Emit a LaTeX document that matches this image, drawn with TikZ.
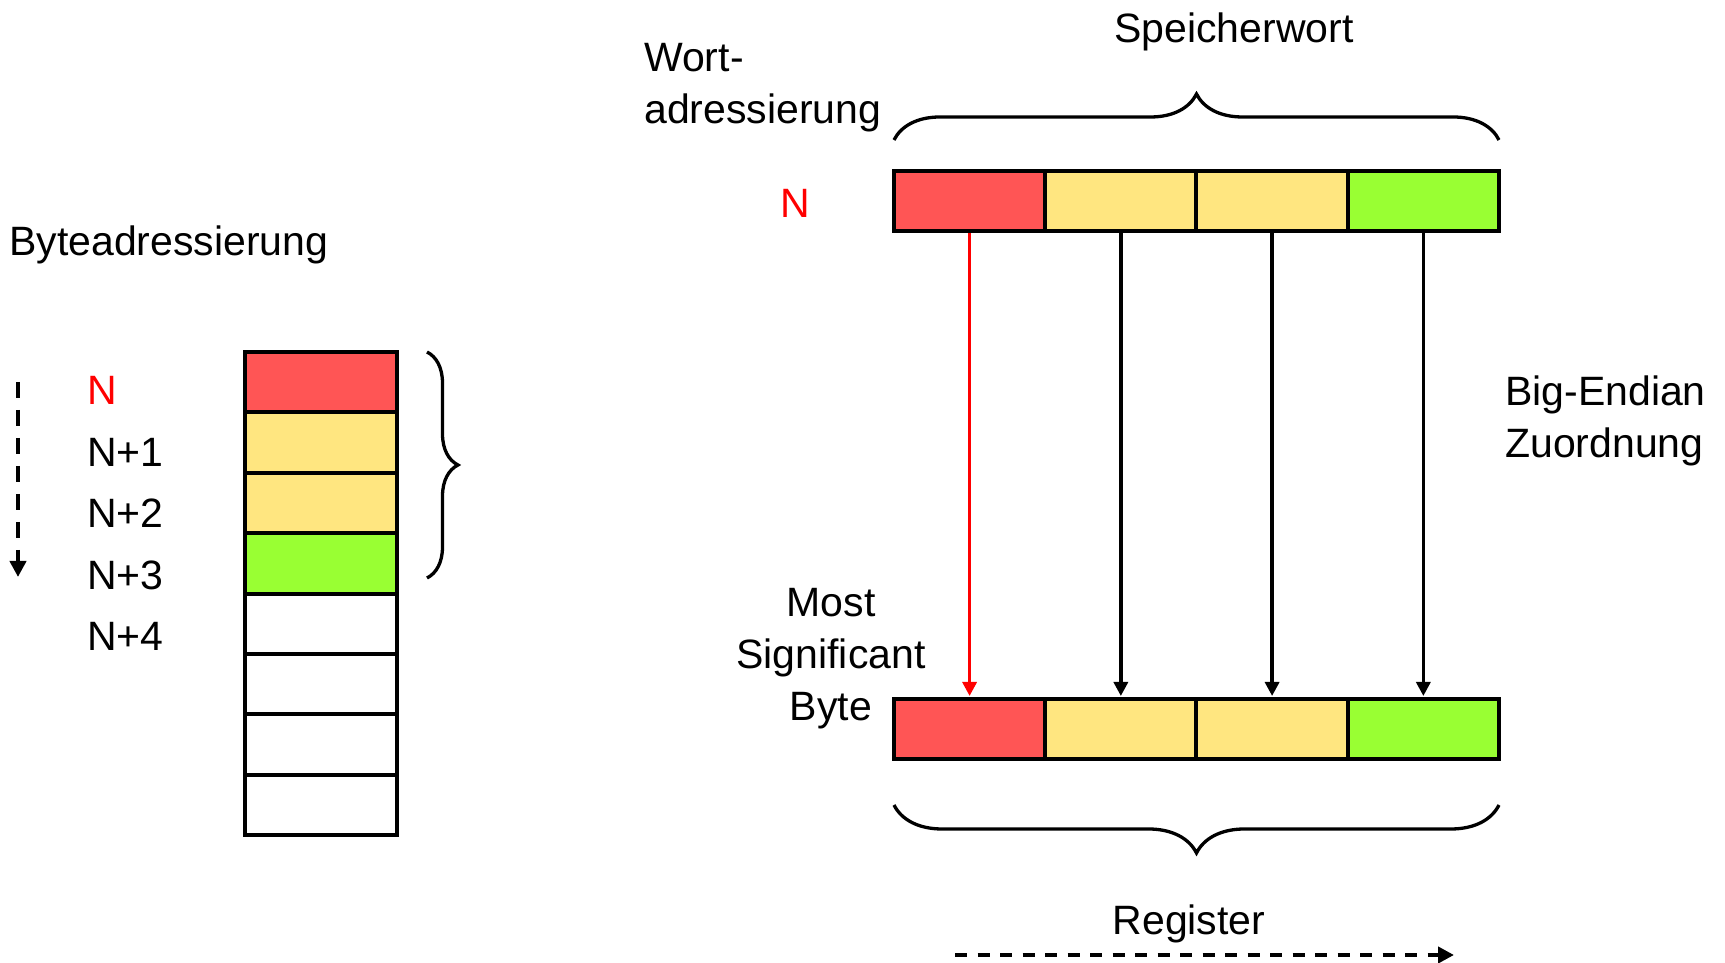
\documentclass[tikz,border=0pt]{standalone}
\usepackage{fontspec}
\setmainfont{Liberation Sans}
\usetikzlibrary{arrows.meta,decorations.pathreplacing}
\definecolor{msbred}{RGB}{255,85,85}
\definecolor{midyellow}{RGB}{255,230,128}
\definecolor{lsbgreen}{RGB}{153,255,51}

\begin{document}
\begin{tikzpicture}[x=1pt,y=1pt,
  cell/.style={draw=black,line width=4pt,minimum width=152pt,minimum height=60.4pt,inner sep=0pt,outer sep=0pt},
  wcell/.style={cell,minimum width=151.25pt,minimum height=60pt},
  lbl/.style={inner sep=0pt,font=\fontsize{41}{52}\selectfont},
  link/.style={line width=3.3pt,-{Triangle[length=14pt,width=14pt]},shorten >=3pt,shorten <=2pt},
  curly/.style={decorate,decoration={brace,amplitude=#1},line width=3.3pt},
  order/.style={line width=4pt,dash pattern=on 12pt off 10.5pt,-{Triangle[length=16pt,width=16pt]}}
]
\useasboundingbox (0,0) rectangle (1725,963);

% byte-addressed memory column
\foreach \i/\c in {0/msbred,1/midyellow,2/midyellow,3/lsbgreen,4/white,5/white,6/white,7/white}
  \node[cell,fill=\c] (b\i) at (321,{580.8-60.4*\i}) {};

\node[lbl,anchor=west] (ba) at (9,718.5) {Byteadressierung};
\node[lbl,anchor=base west,text=red] (l0) at (87,558.5) {N};
\node[lbl,anchor=base west] (l1) at (87,496.5) {N+1};
\node[lbl,anchor=base west] (l2) at (87,435.5) {N+2};
\node[lbl,anchor=base west] (l3) at (87,373.5) {N+3};
\node[lbl,anchor=base west] (l4) at (87,312.5) {N+4};

\coordinate (ordA) at (18,581);
\coordinate (ordB) at (18,386);
\draw[order,dash pattern=on 16pt off 12pt] (ordA) -- (ordB);

\coordinate (lbT) at (427,611);
\coordinate (lbB) at (427,385);
\draw[curly=31pt] (lbT) -- (lbB);

% word in memory and register
\foreach \i/\c in {0/msbred,1/midyellow,2/midyellow,3/lsbgreen} {
  \node[wcell,fill=\c] (w\i) at ({969.6+151.25*\i},762) {};
  \node[wcell,fill=\c] (r\i) at ({969.6+151.25*\i},234) {};
}
\draw[link,red] (w0.south) -- (r0.north);
\foreach \i in {1,2,3}
  \draw[link] (w\i.south) -- (r\i.north);

\coordinate (tbL) at (894,823);
\coordinate (tbR) at (1499,823);
\draw[curly=46pt] (tbL) -- (tbR);
\coordinate (bbL) at (894,158);
\coordinate (bbR) at (1499,158);
\draw[curly=48pt] (bbR) -- (bbL);

\node[lbl] (sw) at (1234,931) {Speicherwort};
\node[lbl,align=left,anchor=west] (wa) at (644,875) {Wort-\\adressierung};
\node[lbl,text=red] (wN) at (795,760) {N};
\node[lbl,align=left,anchor=west] (be) at (1505,542.5) {Big-Endian\\Zuordnung};
\node[lbl,align=center] (msb) at (831,304.5) {Most\\Significant\\Byte};
\node[lbl] (reg) at (1189,39.5) {Register};

\coordinate (rgA) at (955,8);
\coordinate (rgB) at (1454,8);
\draw[order] (rgA) -- (rgB);
\end{tikzpicture}
\end{document}
